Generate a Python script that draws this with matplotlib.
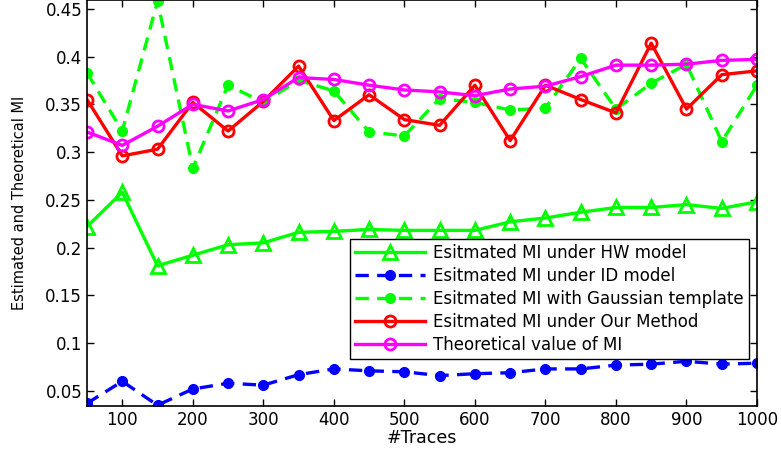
import matplotlib
matplotlib.use('Agg')
import matplotlib.pyplot as plt

plt.rcParams['font.family'] = ['DejaVu Sans']

traces = list(range(50, 1001, 50))

mi_hw = [0.222, 0.258, 0.181, 0.192, 0.203, 0.205, 0.216, 0.217, 0.219, 0.218,
         0.218, 0.218, 0.227, 0.231, 0.237, 0.242, 0.242, 0.245, 0.241, 0.248]
mi_id = [0.037, 0.060, 0.035, 0.052, 0.058, 0.056, 0.067, 0.073, 0.071, 0.070,
         0.066, 0.068, 0.069, 0.073, 0.073, 0.077, 0.078, 0.081, 0.078, 0.079]
mi_gauss = [0.383, 0.322, 0.458, 0.283, 0.370, 0.352, 0.375, 0.364, 0.321, 0.317,
            0.356, 0.352, 0.344, 0.346, 0.398, 0.345, 0.372, 0.392, 0.311, 0.370]
mi_ours = [0.355, 0.296, 0.303, 0.352, 0.322, 0.353, 0.390, 0.333, 0.360, 0.334,
           0.328, 0.370, 0.312, 0.370, 0.355, 0.341, 0.414, 0.345, 0.381, 0.385]
mi_theory = [0.321, 0.307, 0.327, 0.350, 0.343, 0.355, 0.378, 0.376, 0.370, 0.365,
             0.363, 0.359, 0.366, 0.369, 0.379, 0.391, 0.391, 0.392, 0.396, 0.397]

labels = ['Esitmated MI under HW model',
          'Esitmated MI under ID model',
          'Esitmated MI with Gaussian template',
          'Esitmated MI under Our Method',
          'Theoretical value of MI']

fig = plt.figure(figsize=(7.81, 4.53), dpi=100)
ax = fig.add_axes((0.1114, 0.1044, 0.8579, 0.8946))

lw = 2.4
ax.plot(traces, mi_hw, '-', color='#00ff00', lw=lw, marker='^', ms=10,
        mfc='none', mew=2, label=labels[0])
ax.plot(traces, mi_id, '--', color='#0000ff', lw=lw, marker='o', ms=7,
        dashes=(4, 2.5), label=labels[1])
ax.plot(traces, mi_gauss, '--', color='#00ff00', lw=lw, marker='o', ms=7,
        dashes=(4, 2.5), label=labels[2])
ax.plot(traces, mi_ours, '-', color='#ff0000', lw=lw, marker='o', ms=8,
        mfc='none', mew=2, label=labels[3])
ax.plot(traces, mi_theory, '-', color='#ff00ff', lw=lw, marker='o', ms=8,
        mfc='none', mew=2, label=labels[4])

ax.set_xlim(50, 1000)
ax.set_ylim(0.0345, 0.4587)
ax.set_xticks(range(100, 1001, 100))
ax.set_yticks([0.05, 0.1, 0.15, 0.2, 0.25, 0.3, 0.35, 0.4, 0.45])
ax.set_yticklabels(['0.05', '0.1', '0.15', '0.2', '0.25', '0.3', '0.35', '0.4', '0.45'])
ax.tick_params(direction='in', top=True, right=True, length=5, width=1,
               labelsize=12)
for s in ax.spines.values():
    s.set_linewidth(1.2)

ax.set_xlabel('#Traces', fontsize=12.5, labelpad=0)
ax.set_ylabel('Estimated and Theoretical MI', fontsize=10.5, labelpad=13)

leg = ax.legend(loc='upper right', bbox_to_anchor=(0.988, 0.412),
                fontsize=12, fancybox=False, framealpha=1, edgecolor='black',
                handlelength=4.2, handletextpad=0.5, labelspacing=0.3,
                borderpad=0.3, borderaxespad=0)
leg.get_frame().set_linewidth(1.0)

fig.savefig('out.png', dpi=100)
